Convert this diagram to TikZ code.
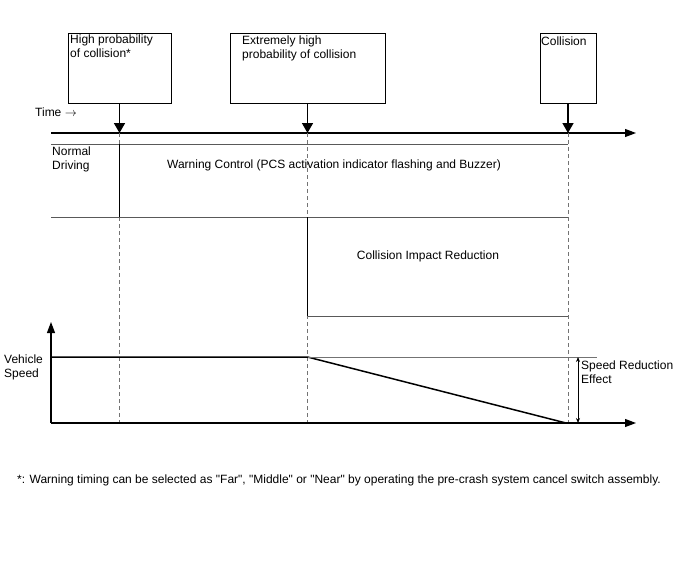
\documentclass[tikz,border=0pt]{standalone}
\usepackage{fontspec}
\setmainfont{Liberation Sans}[Ligatures=TeXOff]
\usetikzlibrary{arrows.meta}
\begin{document}
\begin{tikzpicture}[x=1pt,y=-1pt,
  font=\fontsize{12}{14}\selectfont,
  box/.style={draw, line width=0.8pt, inner sep=0pt},
  txt/.style={anchor=north west, inner sep=0pt, align=left},
  ctxt/.style={inner sep=0pt, align=center},
  evarrow/.style={-{Triangle[width=11pt,length=10pt]}, line width=1.6pt},
  axisarrow/.style={-{Triangle[width=8pt,length=11pt]}, line width=1.1pt},
  band/.style={draw=black!65, line width=0.7pt},
  sep/.style={draw=black, line width=0.6pt},
  guide/.style={draw=black!55, line width=0.6pt, dash pattern=on 4pt off 3pt},
  speed/.style={line width=1.5pt},
  refline/.style={draw=black!55, line width=0.7pt},
  dimarrow/.style={{Stealth[length=5pt,width=4pt]}-{Stealth[length=5pt,width=4pt]}, line width=0.8pt}
]
\useasboundingbox[fill=white] (0,0) rectangle (688,560);

% event boxes
\node[box, minimum width=103pt, minimum height=70pt] (b1) at (119.5,68) {};
\node[box, minimum width=155pt, minimum height=70pt] (b2) at (307.5,68) {};
\node[box, minimum width=56pt, minimum height=70pt] (b3) at (568,68) {};
\node[txt] (b1t) at (70,35) {High probability\\of collision*};
\node[txt] (b2t) at (242,36) {Extremely high\\probability of collision};
\node[txt] (b3t) at (541,37) {Collision};

% time axis
\coordinate (a0) at (51,133);
\coordinate (a1) at (636,133);
\coordinate (t1) at (119.5,133);
\coordinate (t2) at (307.5,133);
\coordinate (t3) at (568,133);
\draw[axisarrow] (a0) -- (a1);
\node[inner sep=0pt, anchor=west] (time) at (35,112) {Time $\rightarrow$};

\draw[evarrow] (b1.south) -- (t1);
\draw[evarrow] (b2.south) -- (t2);
\draw[evarrow] (b3.south) -- (t3);

% dashed guides
\coordinate (g1) at (119.5,423);
\coordinate (g2) at (307.5,423);
\coordinate (g3) at (568,423);
\draw[guide] (t1) -- (g1);
\draw[guide] (t2) -- (g2);
\draw[guide] (t3) -- (g3);

% warning control band
\coordinate (w0) at (51,144);
\coordinate (w1) at (568,144);
\coordinate (w2) at (51,217);
\coordinate (w3) at (568,217);
\coordinate (w4) at (119.5,144);
\coordinate (w5) at (119.5,217);
\draw[band] (w0) -- (w1);
\draw[band] (w2) -- (w3);
\draw[sep] (w4) -- (w5);
\node[txt] (nd) at (52,147) {Normal\\Driving};
\node[ctxt] (wc) at (334,165) {Warning Control (PCS activation indicator flashing and Buzzer)};

% collision impact reduction band
\coordinate (c0) at (307.5,217);
\coordinate (c1) at (307.5,316);
\coordinate (c2) at (568,316);
\draw[sep] (c0) -- (c1);
\draw[band] (c1) -- (c2);
\node[ctxt] (cir) at (428,256) {Collision Impact Reduction};

% speed graph
\coordinate (o) at (51,423);
\coordinate (yt) at (51,322);
\coordinate (xr) at (636,423);
\draw[axisarrow] (o) -- (yt);
\draw[axisarrow] (o) -- (xr);
\coordinate (s0) at (51,357);
\coordinate (s1) at (307.5,357);
\coordinate (s2) at (566,423);
\coordinate (r1) at (597,357);
\draw[speed] (s0) -- (s1) -- (s2);
\draw[refline] (s1) -- (r1);
\coordinate (d0) at (578,357);
\coordinate (d1) at (578,423);
\draw[dimarrow] (d0) -- (d1);
\node[txt] (vs) at (4,355) {Vehicle\\Speed};
\node[txt] (sre) at (581,361) {Speed Reduction\\Effect};

% footnote
\node[inner sep=0pt, anchor=west] (fn) at (17,480) {*: Warning timing can be selected as "Far", "Middle" or "Near" by operating the pre-crash system cancel switch assembly.};
\end{tikzpicture}
\end{document}
